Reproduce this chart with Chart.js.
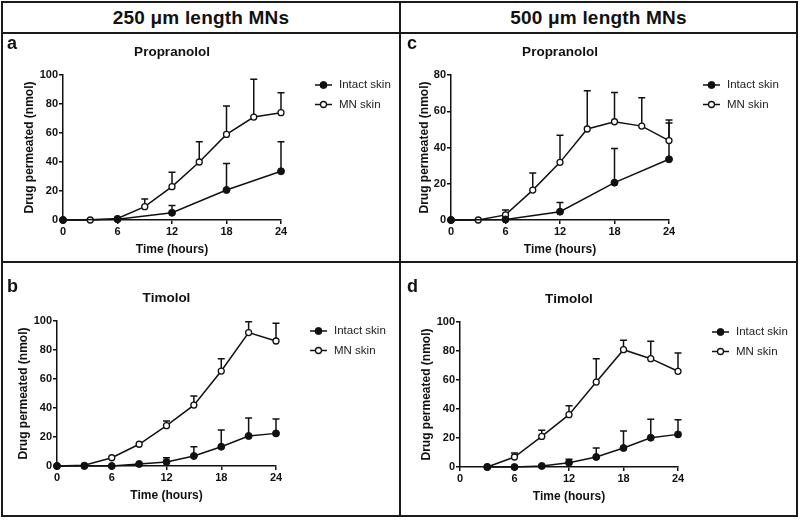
<!DOCTYPE html>
<html>
<head>
<meta charset="utf-8">
<script src="https://cdn.jsdelivr.net/npm/chart.js@4.4.1/dist/chart.umd.min.js"></script>
<style>
  body { margin: 0; background: #fff; }
  #fig { position: relative; width: 800px; height: 520px; font-family: "Liberation Sans", Arial, sans-serif; }
  .ln { position: absolute; background: #1a1a1a; }
  .head { position: absolute; top: 2px; height: 31px; line-height: 31px; text-align: center;
          font-family: "Liberation Sans", Arial, sans-serif; font-weight: bold; font-size: 19px;
          letter-spacing: 0.2px; color: #111; }
  canvas { position: absolute; }
</style>
</head>
<body>
<div id="fig">
  <div class="head" style="left:3px;width:396px">250 μm length MNs</div>
  <div class="head" style="left:402px;width:393px">500 μm length MNs</div>
  <canvas id="pa" width="396" height="228" style="left:3px;top:33px"></canvas>
  <canvas id="pc" width="393" height="228" style="left:402px;top:33px"></canvas>
  <canvas id="pb" width="396" height="251" style="left:3px;top:264px"></canvas>
  <canvas id="pd" width="393" height="251" style="left:402px;top:264px"></canvas>
  <div class="ln" style="left:1px;top:1px;width:797px;height:2px"></div>
  <div class="ln" style="left:1px;top:515px;width:797px;height:2px"></div>
  <div class="ln" style="left:1px;top:1px;width:2px;height:516px"></div>
  <div class="ln" style="left:796px;top:1px;width:2px;height:516px"></div>
  <div class="ln" style="left:399px;top:1px;width:2px;height:516px"></div>
  <div class="ln" style="left:1px;top:32px;width:797px;height:2px"></div>
  <div class="ln" style="left:1px;top:261px;width:797px;height:2px"></div>
</div>
<script>
// tick values
const xTicks = [0, 6, 12, 18, 24];
const yTicks100 = [0, 20, 40, 60, 80, 100];
const yTicks80 = [0, 20, 40, 60, 80];

// (a) propranolol, 250 um
const timeA_intact = [0, 6, 12, 18, 24];
const a_intact = [0, 0.5, 5, 20.7, 33.6];
const a_intactErr = [0, 0, 5, 18.3, 20.4];
const timeA_mn = [0, 3, 6, 9, 12, 15, 18, 21, 24];
const a_mn = [0, 0, 1, 9.2, 23, 40, 59, 71, 74];
const a_mnErr = [0, 0, 0, 5.3, 10, 14, 19.6, 26, 13.8];

// (c) propranolol, 500 um
const timeC_intact = [0, 6, 12, 18, 24];
const c_intact = [0, 0.3, 4.6, 20.6, 33.5];
const c_intactErr = [0, 0, 5.1, 18.9, 20];
const timeC_mn = [0, 3, 6, 9, 12, 15, 18, 21, 24];
const c_mn = [0, 0, 2.8, 16.5, 31.8, 50.2, 54.2, 51.8, 43.8];
const c_mnErr = [0, 0, 2.7, 9.5, 14.9, 21.1, 16.2, 15.7, 11.4];

// (b) timolol, 250 um
const timeB = [0, 3, 6, 9, 12, 15, 18, 21, 24];
const b_intact = [0, 0, 0, 1.4, 2.8, 6.9, 13.3, 20.7, 22.5];
const b_intactErr = [0, 0, 0, 0, 2.9, 6.4, 11.5, 12.4, 9.9];
const b_mn = [0, 0.5, 5.7, 15, 27.8, 42, 65.5, 92, 86.2];
const b_mnErr = [0, 0, 0, 0, 3.2, 6.3, 8.5, 7.5, 12.2];

// (d) timolol, 500 um
const timeD = [3, 6, 9, 12, 15, 18, 21, 24];
const d_intact = [0, 0, 0.7, 3, 6.9, 13.1, 20.2, 22.5];
const d_intactErr = [0, 0, 0, 2.3, 6.2, 11.7, 12.7, 10.1];
const d_mn = [0, 6.9, 21.1, 36.1, 58.6, 80.9, 74.7, 66];
const d_mnErr = [0, 2.8, 4.2, 6.2, 16.1, 6.5, 12, 12.6];

const INK = '#111';
const FONT = '"Liberation Sans", Arial, sans-serif';

// upper error bars, drawn under the markers
const errorBars = {
  id: 'errorBars',
  beforeDatasetsDraw(chart) {
    const ctx = chart.ctx, xs = chart.scales.x, ys = chart.scales.y;
    ctx.save();
    ctx.strokeStyle = INK;
    ctx.lineWidth = 1.5;
    chart.data.datasets.forEach(ds => {
      ds.data.forEach((p, i) => {
        const e = ds.err[i];
        if (!e) return;
        const x = xs.getPixelForValue(p.x);
        const y0 = ys.getPixelForValue(p.y);
        const y1 = ys.getPixelForValue(p.y + e);
        ctx.beginPath();
        ctx.moveTo(x, y0); ctx.lineTo(x, y1);
        ctx.moveTo(x - 3.5, y1); ctx.lineTo(x + 3.5, y1);
        ctx.stroke();
      });
    });
    ctx.restore();
  }
};

// panel letter, title and side legend
const decor = {
  id: 'decor',
  afterDraw(chart, args, opts) {
    const ctx = chart.ctx, ca = chart.chartArea;
    ctx.save();
    ctx.fillStyle = INK;
    ctx.textBaseline = 'alphabetic';
    ctx.font = 'bold 18px ' + FONT;
    ctx.textAlign = 'left';
    ctx.fillText(opts.letter, opts.letterX, opts.letterY);
    ctx.font = 'bold 13.5px ' + FONT;
    ctx.textAlign = 'center';
    ctx.fillText(opts.title, (ca.left + ca.right) / 2, ca.top - 19.5);

    chart.data.datasets.forEach((ds, i) => {
      const y = ca.top + 10 + i * 19.5;
      const x0 = ca.right + 34, x1 = ca.right + 51;
      ctx.strokeStyle = INK;
      ctx.lineWidth = 1.5;
      ctx.beginPath(); ctx.moveTo(x0, y); ctx.lineTo(x1, y); ctx.stroke();
      ctx.beginPath();
      ctx.arc((x0 + x1) / 2, y, ds.pointRadius, 0, Math.PI * 2);
      ctx.fillStyle = ds.pointBackgroundColor;
      ctx.fill();
      ctx.lineWidth = ds.pointBorderWidth;
      ctx.stroke();
      ctx.fillStyle = '#222';
      ctx.font = '11.5px ' + FONT;
      ctx.textAlign = 'left';
      ctx.textBaseline = 'middle';
      ctx.fillText(ds.label, ca.right + 58, y);
    });
    ctx.restore();
  }
};

function series(label, xs, ys, err, open) {
  return {
    label: label,
    data: xs.map((x, i) => ({ x: x, y: ys[i] })),
    err: err,
    showLine: true,
    tension: 0,
    clip: false,
    borderColor: INK,
    borderWidth: 1.5,
    pointRadius: open ? 3 : 3.5,
    pointHoverRadius: open ? 3 : 3.5,
    pointBackgroundColor: open ? '#fff' : INK,
    pointBorderColor: INK,
    pointBorderWidth: open ? 1.3 : 1
  };
}

function axis(ticks, titleText, size) {
  return {
    type: 'linear',
    min: ticks[0],
    max: ticks[ticks.length - 1],
    afterBuildTicks: s => { s.ticks = ticks.map(v => ({ value: v })); },
    afterFit: s => {
      if (s.isHorizontal()) s.height = size; else s.width = size;
    },
    ticks: { color: INK, padding: 1, font: { family: FONT, size: 11, weight: 'bold' } },
    grid: { drawOnChartArea: false, drawTicks: true, tickLength: 4, tickColor: INK, lineWidth: 1.5 },
    border: { display: true, color: INK, width: 1.5 },
    title: { display: true, text: titleText, color: INK, padding: 0,
             font: { family: FONT, size: 12, weight: 'bold' } }
  };
}

function panel(id, p) {
  const cv = document.getElementById(id);
  const W = cv.width, H = cv.height, xH = 37.2;
  new Chart(cv, {
    type: 'scatter',
    data: { datasets: p.datasets },
    options: {
      responsive: false,
      animation: false,
      events: [],
      layout: { padding: { left: p.L - p.yW, top: p.T, right: W - p.R, bottom: H - p.B - xH } },
      scales: {
        x: axis(xTicks, 'Time (hours)', xH),
        y: axis(p.yTicks, 'Drug permeated (nmol)', p.yW)
      },
      plugins: {
        legend: { display: false },
        tooltip: { enabled: false },
        decor: { letter: p.letter, title: p.title, letterX: p.lx, letterY: p.ly }
      }
    },
    plugins: [errorBars, decor]
  });
}

panel('pa', {
  letter: 'a', title: 'Propranolol', lx: 4, ly: 16,
  L: 60, T: 42, R: 278, B: 187, yW: 40.6, yTicks: yTicks100,
  datasets: [
    series('Intact skin', timeA_intact, a_intact, a_intactErr, false),
    series('MN skin', timeA_mn, a_mn, a_mnErr, true)
  ]
});
panel('pc', {
  letter: 'c', title: 'Propranolol', lx: 5, ly: 16,
  L: 49, T: 42, R: 267, B: 187, yW: 33.6, yTicks: yTicks80,
  datasets: [
    series('Intact skin', timeC_intact, c_intact, c_intactErr, false),
    series('MN skin', timeC_mn, c_mn, c_mnErr, true)
  ]
});
panel('pb', {
  letter: 'b', title: 'Timolol', lx: 4, ly: 28,
  L: 54, T: 57, R: 273, B: 202, yW: 40.6, yTicks: yTicks100,
  datasets: [
    series('Intact skin', timeB, b_intact, b_intactErr, false),
    series('MN skin', timeB, b_mn, b_mnErr, true)
  ]
});
panel('pd', {
  letter: 'd', title: 'Timolol', lx: 5, ly: 28,
  L: 58, T: 58, R: 276, B: 203, yW: 40.6, yTicks: yTicks100,
  datasets: [
    series('Intact skin', timeD, d_intact, d_intactErr, false),
    series('MN skin', timeD, d_mn, d_mnErr, true)
  ]
});
</script>
</body>
</html>
